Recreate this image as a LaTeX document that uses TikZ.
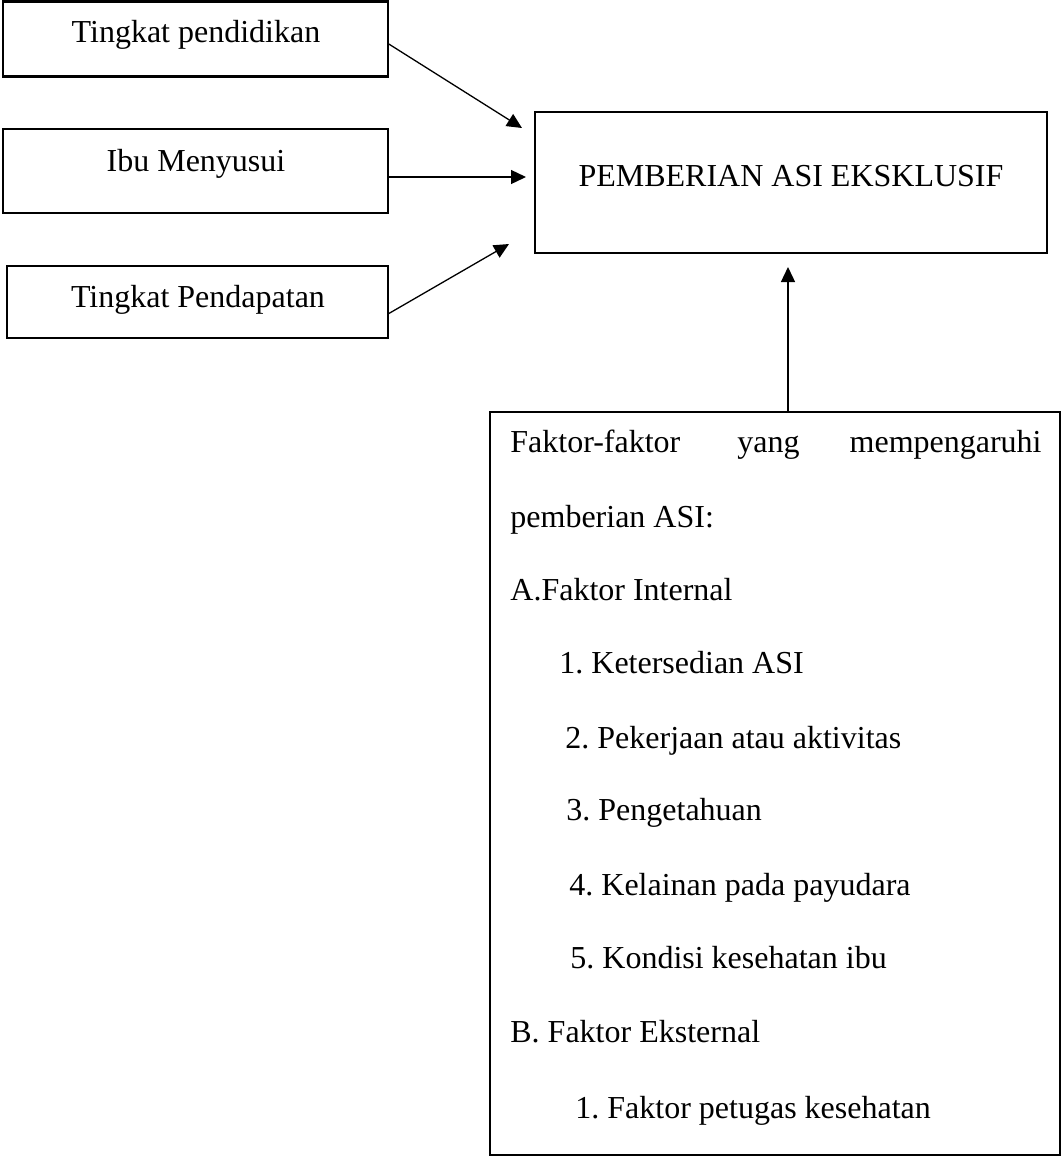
\documentclass[tikz,border=0pt]{standalone}
\usepackage{fontspec}
\setmainfont{Liberation Serif}
\usetikzlibrary{arrows.meta}
\frenchspacing
\begin{document}
\begin{tikzpicture}[x=0.5pt,y=-0.5pt,
  box/.style={draw, line width=1.35pt, inner sep=0pt, outer sep=0pt, anchor=north west},
  lbl/.style={inner sep=0pt, font=\fontsize{16pt}{19pt}\selectfont\frenchspacing},
  arr/.style={line width=0.65pt, -{Triangle[length=7.5pt,width=7pt]}}]
\useasboundingbox (0,0) rectangle (1063,1157);
% boxes
\node[box, minimum width=192.5pt, minimum height=37.5pt] (b1) at (3,1.5) {};
\node[box, minimum width=192.5pt, minimum height=42pt] (b2) at (3,129) {};
\node[box, minimum width=190.5pt, minimum height=36pt] (b3) at (7,266) {};
\node[box, minimum width=256pt, minimum height=70.5pt] (main) at (535,112) {};
\node[box, minimum width=285pt, minimum height=371.5pt] (bot) at (490,412) {};
% texts
\node[lbl, anchor=base] (t1) at (196,42) {Tingkat pendidikan};
\node[lbl, anchor=base] (t2) at (196,171) {Ibu Menyusui};
\node[lbl, anchor=base] (t3) at (198,307) {Tingkat Pendapatan};
\node[lbl, anchor=base] (tm) at (791,186) {PEMBERIAN ASI EKSKLUSIF};
\node[lbl, anchor=base west] (l1a) at (510,452) {Faktor-faktor};
\node[lbl, anchor=base west] (l1b) at (737,452) {yang};
\node[lbl, anchor=base east] (l1c) at (1042,452) {mempengaruhi};
\node[lbl, anchor=base west] (l2) at (510,527) {pemberian ASI:};
\node[lbl, anchor=base west] (l3) at (510,600) {A.Faktor Internal};
\node[lbl, anchor=base west] (l4) at (559,673) {1. Ketersedian ASI};
\node[lbl, anchor=base west] (l5) at (565,748) {2. Pekerjaan atau aktivitas};
\node[lbl, anchor=base west] (l6) at (566,820) {3. Pengetahuan};
\node[lbl, anchor=base west] (l7) at (569,895) {4. Kelainan pada payudara};
\node[lbl, anchor=base west] (l8) at (570,968) {5. Kondisi kesehatan ibu};
\node[lbl, anchor=base west] (l9) at (510,1042) {B. Faktor Eksternal};
\node[lbl, anchor=base west] (l10) at (575,1118) {1. Faktor petugas kesehatan};
% arrow tips
\coordinate (tip1) at (522,128);
\coordinate (tip2) at (526,177);
\coordinate (tip3) at (509,244);
\coordinate (tip4) at (788,267);
% connectors
\draw[arr] ([yshift=-2.25pt]b1.east) -- (tip1);
\draw[arr] ([yshift=-3pt]b2.east) -- (tip2);
\draw[arr] ([yshift=-6pt]b3.east) -- (tip3);
\draw[arr] ([xshift=6.5pt]bot.north) -- (tip4);
\end{tikzpicture}
\end{document}
